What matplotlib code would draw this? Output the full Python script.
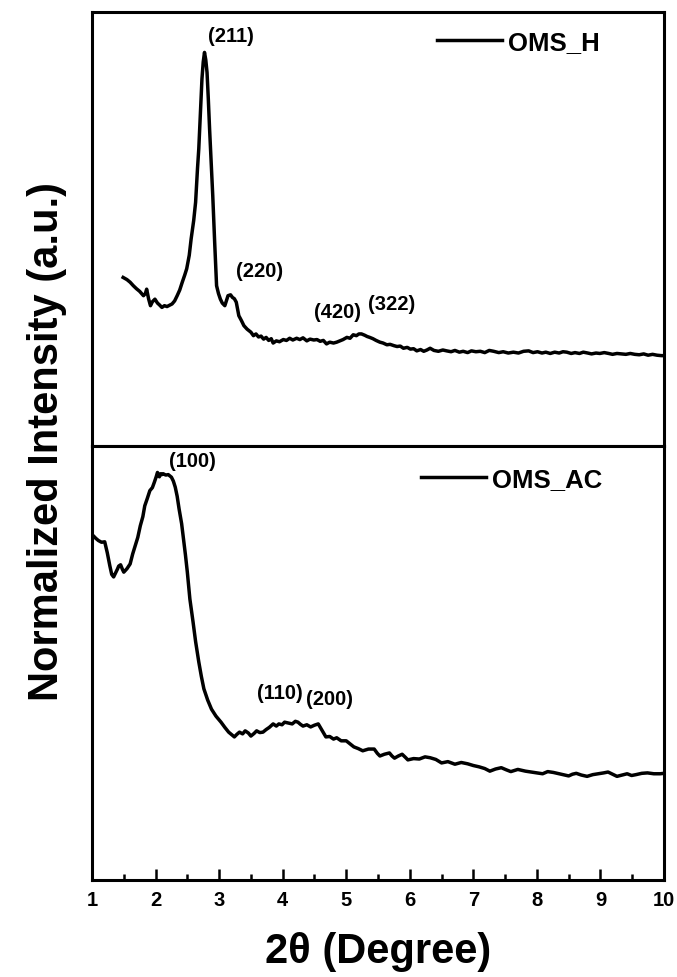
"""
XRD patterns (low angle) of OMS_H and OMS_AC, two stacked panels
"""
import numpy as np
import matplotlib.pyplot as plt

plt.rcParams['font.family'] = ['Liberation Sans', 'DejaVu Sans']
plt.rcParams['font.weight'] = 'bold'

# OMS_H pattern (2theta in degree, normalized intensity)
x_h = [1.49, 1.55, 1.60, 1.65, 1.70, 1.75, 1.81, 1.84, 1.86, 1.89, 1.92, 1.95, 1.99, 2.03,
       2.06, 2.10, 2.14, 2.18, 2.22, 2.26, 2.30, 2.34, 2.38, 2.42, 2.46, 2.49, 2.53, 2.56,
       2.60, 2.63, 2.66, 2.68, 2.71, 2.73, 2.75, 2.77, 2.79, 2.81, 2.83, 2.85, 2.88, 2.90,
       2.93, 2.96, 2.99, 3.02, 3.05, 3.09, 3.12, 3.14, 3.18, 3.21, 3.24, 3.27, 3.31, 3.35,
       3.39, 3.44, 3.50, 3.54, 3.58, 3.62, 3.66, 3.70, 3.74, 3.78, 3.82, 3.85, 3.90, 3.95,
       4.01, 4.06, 4.11, 4.16, 4.22, 4.27, 4.32, 4.38, 4.43, 4.49, 4.54, 4.59, 4.64, 4.69,
       4.74, 4.80, 4.85, 4.90, 4.95, 5.01, 5.06, 5.11, 5.16, 5.20, 5.24, 5.29, 5.33, 5.37,
       5.42, 5.47, 5.53, 5.58, 5.64, 5.69, 5.75, 5.80, 5.85, 5.90, 5.96, 6.01, 6.06, 6.11,
       6.17, 6.22, 6.27, 6.32, 6.38, 6.45, 6.52, 6.58, 6.65, 6.71, 6.78, 6.84, 6.91, 6.97,
       7.04, 7.11, 7.18, 7.25, 7.32, 7.40, 7.47, 7.55, 7.63, 7.71, 7.79, 7.87, 7.94, 8.01,
       8.08, 8.14, 8.21, 8.28, 8.35, 8.41, 8.47, 8.54, 8.60, 8.67, 8.73, 8.80, 8.86, 8.93,
       8.99, 9.06, 9.13, 9.19, 9.26, 9.33, 9.40, 9.47, 9.54, 9.61, 9.68, 9.75, 9.82, 9.89,
       9.96, 10.0]
i_h = [0.389, 0.384, 0.378, 0.370, 0.363, 0.357, 0.347, 0.352, 0.362, 0.340, 0.324, 0.333,
       0.339, 0.330, 0.326, 0.320, 0.324, 0.322, 0.325, 0.328, 0.335, 0.347, 0.360, 0.378,
       0.395, 0.409, 0.440, 0.478, 0.520, 0.562, 0.640, 0.685, 0.780, 0.846, 0.885, 0.907,
       0.890, 0.861, 0.800, 0.731, 0.640, 0.577, 0.470, 0.370, 0.352, 0.339, 0.330, 0.324,
       0.338, 0.347, 0.349, 0.343, 0.340, 0.332, 0.301, 0.290, 0.278, 0.270, 0.263, 0.255,
       0.259, 0.252, 0.254, 0.247, 0.251, 0.244, 0.248, 0.238, 0.243, 0.241, 0.246, 0.244,
       0.249, 0.245, 0.249, 0.246, 0.250, 0.243, 0.247, 0.245, 0.246, 0.242, 0.244, 0.236,
       0.240, 0.238, 0.240, 0.243, 0.246, 0.251, 0.249, 0.257, 0.255, 0.259, 0.259, 0.256,
       0.253, 0.251, 0.248, 0.244, 0.240, 0.238, 0.234, 0.235, 0.232, 0.230, 0.231, 0.226,
       0.228, 0.224, 0.225, 0.220, 0.223, 0.219, 0.222, 0.226, 0.221, 0.219, 0.222, 0.220,
       0.218, 0.221, 0.217, 0.219, 0.216, 0.220, 0.218, 0.219, 0.216, 0.221, 0.219, 0.216,
       0.218, 0.215, 0.217, 0.215, 0.219, 0.220, 0.216, 0.218, 0.215, 0.217, 0.214, 0.217,
       0.215, 0.218, 0.217, 0.214, 0.216, 0.214, 0.217, 0.215, 0.213, 0.215, 0.214, 0.216,
       0.214, 0.212, 0.214, 0.213, 0.212, 0.214, 0.212, 0.211, 0.213, 0.210, 0.212, 0.210,
       0.209, 0.209]

# OMS_AC pattern
x_ac = [1.00, 1.02, 1.06, 1.10, 1.15, 1.20, 1.24, 1.28, 1.31, 1.34,
        1.37, 1.40, 1.42, 1.45, 1.48, 1.50, 1.55, 1.60, 1.64, 1.68,
        1.72, 1.76, 1.80, 1.83, 1.87, 1.91, 1.95, 1.98, 2.01, 2.03,
        2.06, 2.08, 2.10, 2.12, 2.16, 2.20, 2.25, 2.28, 2.31, 2.34,
        2.37, 2.41, 2.44, 2.47, 2.50, 2.54, 2.59, 2.63, 2.68, 2.72,
        2.76, 2.82, 2.88, 2.95, 3.03, 3.09, 3.15, 3.20, 3.24, 3.28,
        3.32, 3.37, 3.41, 3.46, 3.50, 3.55, 3.59, 3.64, 3.69, 3.74,
        3.79, 3.85, 3.90, 3.94, 3.99, 4.03, 4.09, 4.15, 4.20, 4.24,
        4.28, 4.32, 4.38, 4.44, 4.50, 4.56, 4.62, 4.68, 4.74, 4.80,
        4.85, 4.92, 5.00, 5.06, 5.12, 5.19, 5.26, 5.35, 5.44, 5.49,
        5.53, 5.60, 5.68, 5.72, 5.76, 5.82, 5.88, 5.93, 5.97, 6.06,
        6.15, 6.24, 6.32, 6.41, 6.50, 6.60, 6.71, 6.81, 6.91, 7.00,
        7.09, 7.18, 7.26, 7.35, 7.44, 7.52, 7.59, 7.70, 7.82, 7.95,
        8.09, 8.17, 8.26, 8.38, 8.50, 8.56, 8.62, 8.70, 8.79, 8.88,
        8.97, 9.05, 9.12, 9.19, 9.26, 9.34, 9.42, 9.49, 9.56, 9.65,
        9.74, 9.84, 9.94, 10.0]
i_ac = [0.796, 0.794, 0.788, 0.783, 0.779, 0.780, 0.755, 0.725, 0.705, 0.699,
        0.708, 0.717, 0.724, 0.727, 0.716, 0.710, 0.718, 0.729, 0.752, 0.771,
        0.790, 0.817, 0.838, 0.863, 0.880, 0.898, 0.905, 0.917, 0.930, 0.940,
        0.930, 0.937, 0.935, 0.937, 0.934, 0.935, 0.929, 0.920, 0.906, 0.885,
        0.856, 0.822, 0.787, 0.750, 0.710, 0.648, 0.595, 0.550, 0.503, 0.470,
        0.441, 0.415, 0.394, 0.378, 0.364, 0.352, 0.341, 0.335, 0.330, 0.336,
        0.341, 0.337, 0.344, 0.339, 0.332, 0.338, 0.344, 0.340, 0.341, 0.347,
        0.352, 0.360, 0.355, 0.360, 0.358, 0.364, 0.362, 0.360, 0.366, 0.364,
        0.359, 0.355, 0.358, 0.353, 0.357, 0.360, 0.345, 0.330, 0.331, 0.325,
        0.328, 0.321, 0.321, 0.314, 0.307, 0.303, 0.298, 0.302, 0.302, 0.292,
        0.286, 0.290, 0.293, 0.286, 0.281, 0.286, 0.290, 0.283, 0.277, 0.280,
        0.279, 0.284, 0.282, 0.278, 0.270, 0.273, 0.267, 0.271, 0.268, 0.264,
        0.261, 0.257, 0.251, 0.256, 0.259, 0.254, 0.250, 0.255, 0.251, 0.248,
        0.245, 0.250, 0.248, 0.244, 0.240, 0.244, 0.246, 0.242, 0.239, 0.243,
        0.245, 0.247, 0.249, 0.244, 0.239, 0.242, 0.245, 0.241, 0.243, 0.246,
        0.247, 0.245, 0.245, 0.246]

# peak labels: (text, x, y)
peaks_h = [("(211)", 3.18, 0.945), ("(220)", 3.64, 0.404),
           ("(420)", 4.86, 0.310), ("(322)", 5.71, 0.328)]
peaks_ac = [("(100)", 2.58, 0.967), ("(110)", 3.95, 0.433), ("(200)", 4.73, 0.418)]

fig = plt.figure(figsize=(6.77, 9.78), dpi=100)
ax1 = fig.add_axes([0.1359, 0.5425, 0.8449, 0.4442])
ax2 = fig.add_axes([0.1359, 0.0992, 0.8449, 0.4433], sharex=ax1)

ax1.plot(x_h, i_h, color='black', lw=2.5, label='OMS_H')
ax2.plot(x_ac, i_ac, color='black', lw=2.5, label='OMS_AC')

for txt, xp, yp in peaks_h:
    ax1.text(xp, yp, txt, fontsize=14.5, fontweight='bold', ha='center', va='center')
for txt, xp, yp in peaks_ac:
    ax2.text(xp, yp, txt, fontsize=14.5, fontweight='bold', ha='center', va='center')

for ax in (ax1, ax2):
    ax.set_ylim(0, 1)
    ax.set_yticks([])
    for sp in ax.spines.values():
        sp.set_linewidth(2.2)

ax1.set_xlim(1, 10)
ax1.tick_params(axis='x', which='both', bottom=False, labelbottom=False)

ax2.set_xticks(np.arange(1, 11))
ax2.set_xticks(np.arange(1.5, 10, 1), minor=True)
ax2.tick_params(axis='x', which='major', direction='in', length=8, width=1.8,
                labelsize=14.5, pad=7)
ax2.tick_params(axis='x', which='minor', direction='in', length=4.5, width=1.8)
for lab in ax2.get_xticklabels():
    lab.set_fontweight('bold')

ax2.set_xlabel('2θ (Degree)', fontsize=30, fontweight='bold', labelpad=16)
fig.text(0.069, 0.549, 'Normalized Intensity (a.u.)', rotation=90, fontsize=30,
         fontweight='bold', ha='center', va='center')

ax1.legend(loc='center left', bbox_to_anchor=(0.604, 0.932), frameon=False,
           handlelength=2.5, handletextpad=0.25,
           borderpad=0, borderaxespad=0, prop={'weight': 'bold', 'size': 18.5})
ax2.legend(loc='center left', bbox_to_anchor=(0.576, 0.925), frameon=False,
           handlelength=2.5, handletextpad=0.25,
           borderpad=0, borderaxespad=0, prop={'weight': 'bold', 'size': 18.5})

plt.savefig("out.png", dpi=100)
